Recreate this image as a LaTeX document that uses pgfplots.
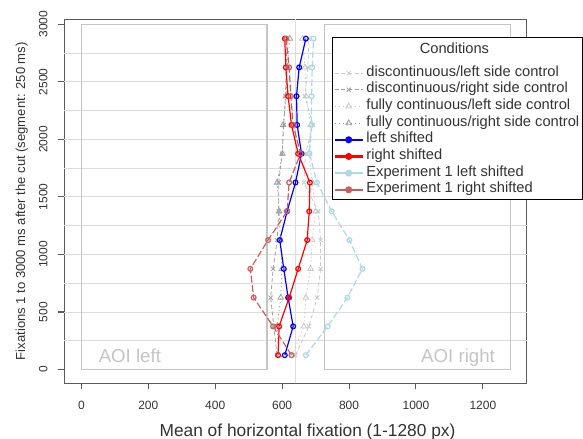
\documentclass[border=0pt]{standalone}
\usepackage{pgfplots}
\pgfplotsset{compat=1.18}
\usepackage{fontspec}
\setmainfont{Liberation Sans}
\definecolor{exblue}{HTML}{ADD8E6}
\definecolor{exred}{HTML}{CD5C5C}
\definecolor{lgray}{HTML}{C8C8C8}
\definecolor{dgray}{HTML}{9E9E9E}
\definecolor{gridc}{HTML}{DCDCDC}
\definecolor{aoic}{HTML}{C4C4C4}
\definecolor{framec}{HTML}{5A5A5A}
\definecolor{txt}{HTML}{333333}
\begin{document}
\begin{tikzpicture}[x=1pt,y=1pt]
\useasboundingbox (-48.2,-41) rectangle (389,287.5);
\begin{axis}[
  scale only axis, width=346.8pt, height=273.2pt,
  xmin=-51, xmax=1331, ymin=-120, ymax=3045,
  axis line style={draw=framec, line width=0.8pt},
  xtick={0,200,...,1200}, ytick={0,500,...,3000},
  tick align=outside, tick pos=left, major tick length=4.5pt,
  tick style={draw=framec, line width=0.8pt},
  /pgf/number format/assume math mode=true,
  /pgf/number format/1000 sep={},
  ticklabel style={font=\fontsize{9}{10}\selectfont, text=txt},
  yticklabel style={rotate=90, anchor=south},
  xticklabel shift=5pt, yticklabel shift=4.5pt,
  extra y ticks={250,500,...,2750},
  extra y tick style={grid=major, major grid style={gridc, line width=0.6pt}, major tick length=0pt, yticklabels={}},
  xlabel={Mean of horizontal fixation (1-1280 px)},
  ylabel={Fixations 1 to 3000 ms after the cut (segment: 250 ms)},
  xlabel style={font=\fontsize{13}{14}\selectfont, text=txt, yshift=-4pt, xshift=9pt},
  ylabel style={font=\fontsize{9.8}{11}\selectfont, text=txt, yshift=-12pt},
  legend image code/.code={\draw[mark repeat=2,mark phase=2] plot coordinates {(0pt,0pt)(10.5pt,0pt)(21pt,0pt)};},
  legend style={at={(axis description cs:0.579,0.951)}, anchor=north west,
    draw=black, line width=0.8pt, fill=white, font=\fontsize{11}{12}\selectfont,
    text=txt, row sep=0pt, inner sep=0.8pt,
    nodes={inner ysep=0.6pt, text height=8pt, text depth=3.3pt}},
  legend cell align=left,
]
\draw[gridc, line width=0.6pt] (axis cs:640,-120) -- (axis cs:640,3045);
\draw[aoic, line width=1pt] (axis cs:1,0) rectangle (axis cs:555,3000);
\draw[aoic, line width=1pt] (axis cs:726,0) rectangle (axis cs:1282,3000);
\node[anchor=base west, text=aoic, font=\fontsize{14}{15}\selectfont] at (axis cs:38,63) {AOI left};
\node[anchor=base east, text=aoic, font=\fontsize{14}{15}\selectfont] at (axis cs:1250,63) {AOI right};

\addlegendimage{empty legend}
\addlegendentry[text height=11pt, text depth=7.5pt]{\hspace*{40pt}Conditions}

\addplot[lgray, line width=0.6pt, dash pattern=on 3pt off 2pt, mark=x, mark size=2.2pt, mark options={solid}]
coordinates {(640,125)(680,375)(705,625)(715,875)(715,1125)(708,1375)(665,1625)(670,1875)(692,2125)(668,2375)(677,2625)(680,2875)};
\addlegendentry{discontinuous/left side control}
\addplot[dgray, line width=0.6pt, dash pattern=on 3pt off 2pt, mark=x, mark size=2.2pt, mark options={solid}]
coordinates {(585,125)(575,375)(566,625)(573,875)(585,1125)(590,1375)(590,1625)(600,1875)(605,2125)(610,2375)(612,2625)(615,2875)};
\addlegendentry{discontinuous/right side control}
\addplot[lgray, line width=0.6pt, dash pattern=on 1pt off 2pt, mark=triangle, mark size=2.4pt, mark options={solid}]
coordinates {(630,125)(665,375)(671,625)(685,875)(690,1125)(700,1375)(690,1625)(680,1875)(685,2125)(672,2375)(668,2625)(661,2875)};
\addlegendentry{fully continuous/left side control}
\addplot[dgray, line width=0.6pt, dash pattern=on 1pt off 2pt, mark=triangle, mark size=2.4pt, mark options={solid}]
coordinates {(590,125)(585,375)(596,625)(600,875)(595,1125)(591,1375)(585,1625)(601,1875)(603,2125)(612,2375)(615,2625)(623,2875)};
\addlegendentry{fully continuous/right side control}
\addplot[blue, line width=0.9pt, mark=o, mark size=1.8pt, legend image post style={mark=*, line width=1.6pt}]
coordinates {(608,125)(633,375)(618,625)(605,875)(593,1125)(615,1375)(640,1625)(658,1875)(645,2125)(643,2375)(651,2625)(671,2875)};
\addlegendentry{left shifted}
\addplot[red, line width=0.9pt, mark=o, mark size=1.8pt, legend image post style={mark=*, line width=1.6pt}]
coordinates {(588,125)(591,375)(621,625)(648,875)(675,1125)(681,1375)(683,1625)(648,1875)(628,2125)(618,2375)(611,2625)(608,2875)};
\addlegendentry{right shifted}
\addplot[exblue, line width=0.9pt, dash pattern=on 5pt off 2pt, mark=o, mark size=1.8pt, mark options={solid}, legend image post style={mark=*, solid, line width=1.6pt}]
coordinates {(671,125)(736,375)(795,625)(840,875)(801,1125)(748,1375)(704,1625)(682,1875)(688,2125)(688,2375)(690,2625)(694,2875)};
\addlegendentry{Experiment 1 left shifted}
\addplot[exred, line width=0.9pt, dash pattern=on 5pt off 2pt, mark=o, mark size=1.8pt, mark options={solid}, legend image post style={mark=*, solid, line width=1.6pt}]
coordinates {(628,125)(573,375)(515,625)(505,875)(558,1125)(615,1375)(621,1625)(655,1875)(633,2125)(626,2375)(621,2625)(612,2875)};
\addlegendentry{Experiment 1 right shifted}
\end{axis}
\end{tikzpicture}
\end{document}
